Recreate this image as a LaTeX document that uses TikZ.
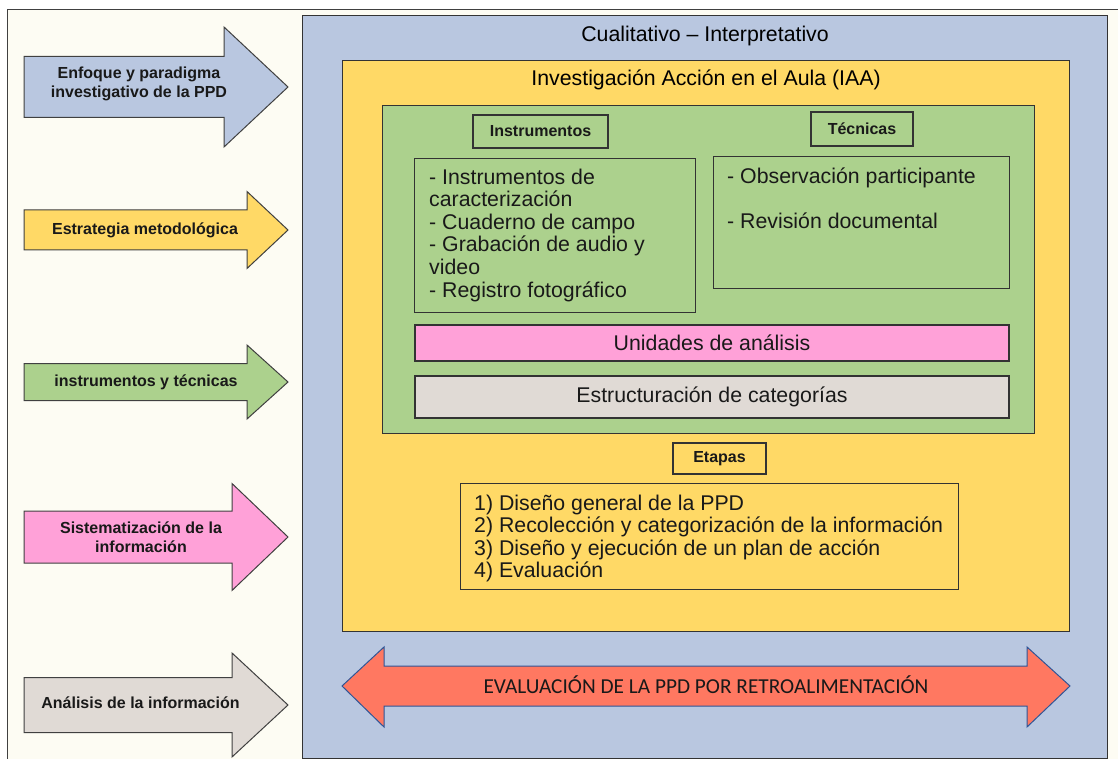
\documentclass[tikz,border=0pt]{standalone}
\usepackage{fontspec}
\setmainfont{Liberation Sans}
\newfontfamily\retrofont{Carlito}
\usetikzlibrary{positioning}
\definecolor{cream}{RGB}{253,252,243}
\definecolor{paneblue}{RGB}{185,199,224}
\definecolor{paneyellow}{RGB}{255,217,102}
\definecolor{panegreen}{RGB}{172,209,141}
\definecolor{panepink}{RGB}{255,161,216}
\definecolor{panegray}{RGB}{224,218,213}
\definecolor{retrored}{RGB}{255,120,97}
\definecolor{retroblue}{RGB}{47,85,151}
\newcommand{\bodysize}{\fontsize{21.3pt}{22.6pt}\selectfont}
\newcommand{\tagsize}{\fontsize{16pt}{19.5pt}\selectfont\bfseries}
\tikzset{
  panel/.style={ draw=black!80, line width=1.1pt, inner sep=0pt, anchor=north west }
}
\tikzset{
  tag/.style={ draw=black!80, line width=1.1pt, inner sep=0pt, font=\tagsize, text=black!90 }
}
\tikzset{
  listtxt/.style={ anchor=north west, inner sep=0pt, align=left, font=\bodysize, text=black!90 }
}
\tikzset{
  arrowtxt/.style={ align=center, inner sep=0pt, font=\tagsize, text=black!90 }
}
\tikzset{
  arrowline/.style={ draw=black!75, line width=1pt }
}
% #1 fill, #2 centre y, #3 half shaft, #4 half head, #5 head base x
\newcommand{\sidearrow}[5]{%
  \filldraw[arrowline, fill=#1] (24,{#2-#3}) -- (#5,{#2-#3}) -- (#5,{#2-#4}) -- (288,#2)
    -- (#5,{#2+#4}) -- (#5,{#2+#3}) -- (24,{#2+#3}) -- cycle;}

\begin{document}
\begin{tikzpicture}[x=1pt, y=-1pt]
      \useasboundingbox (0,0) rectangle (1118,759);
      \fill[white] (0,0) rectangle (1118,759);
      \fill[cream] (7,10) rectangle (1118,759);
      \draw[black!75, line width=1pt] (7,759) -- (7,10) -- (1118,10);

      \sidearrow{paneblue}{87}{30.5}{60}{224}
      \sidearrow{paneyellow}{230}{20}{38.5}{247}
      \sidearrow{panegreen}{382}{18.5}{37}{247}
      \sidearrow{panepink}{537}{26}{53.5}{232}
      \sidearrow{panegray}{705}{27.5}{52}{232}
      \node[arrowtxt] (enfoque) at (139,84) {Enfoque y paradigma\\investigativo de la PPD};
      \node[arrowtxt] (estrategia) at (145,230) {Estrategia metodológica};
      \node[arrowtxt] (instrumentos) at (146,382) {instrumentos y técnicas};
      \node[arrowtxt] (sistematizacion) at (141,537) {Sistematización de la\\información};
      \node[arrowtxt] (analisis) at (140.5,703) {Análisis de la información};

      \node[panel, fill=paneblue, minimum width=805pt, minimum height=743pt] (cuali) at (302,15) {};
      \node[anchor=base, font=\bodysize] (cualiT) at ([yshift=-27pt]cuali.north) {Cualitativo – Interpretativo};
      \node[panel, fill=paneyellow, minimum width=727pt, minimum height=571pt] (aula) at (342,60) {};
      \node[anchor=base, font=\bodysize] (aulaT) at ([yshift=-26pt]aula.north) {Investigación Acción en el Aula (IAA)};
      \node[panel, fill=panegreen, minimum width=652pt, minimum height=328pt] (campo) at (382,105) {};

      \node[tag, minimum width=135pt, minimum height=33pt] (instrT) at (540.5,131.5) {Instrumentos};
      \node[tag, minimum width=102pt, minimum height=34pt] (tecT) at (862,129) {Técnicas};
      \node[panel, minimum width=281pt, minimum height=154pt] (instr) at (414,158) {};
      \node[panel, minimum width=296pt, minimum height=132pt] (tec) at (713,156) {};
      \node[listtxt] (instrL) at (429,168.5) {- Instrumentos de\\caracterización\\- Cuaderno de campo\\- Grabación de audio y\\video\\- Registro fotográfico};
      \node[listtxt] (tecL) at (727,167.5) {- Observación participante\\[22.6pt]- Revisión documental};

      \node[tag, fill=panepink, minimum width=594pt, minimum height=36pt, font=\bodysize] (unid) at (712,343) {Unidades de análisis};
      \node[tag, fill=panegray, minimum width=594pt, minimum height=42pt, font=\bodysize] (estr) at (712,397) {Estructuración de categorías};

      \node[tag, minimum width=93pt, minimum height=31pt] (etapT) at (719.5,458.5) {Etapas};
      \node[panel, minimum width=498pt, minimum height=106pt] (etap) at (460,483) {};
      \node[listtxt] (etapL) at (474,494.5) {1) Diseño general de la PPD\\2) Recolección y categorización de la información\\3) Diseño y ejecución de un plan de acción\\4) Evaluación};

      \filldraw[draw=retroblue, line width=1pt, fill=retrored] (342,686) -- (384,647) -- (384,666) -- (1027,666)
        -- (1027,647) -- (1070,686) -- (1027,727) -- (1027,706) -- (384,706) -- (384,727) -- cycle;
      \node[anchor=base, inner sep=0pt, font=\retrofont\fontsize{21.3pt}{24pt}\selectfont, text=black!90] (retro) at (706,693) {EVALUACIÓN DE LA PPD POR RETROALIMENTACIÓN};
    \end{tikzpicture}
\end{document}
